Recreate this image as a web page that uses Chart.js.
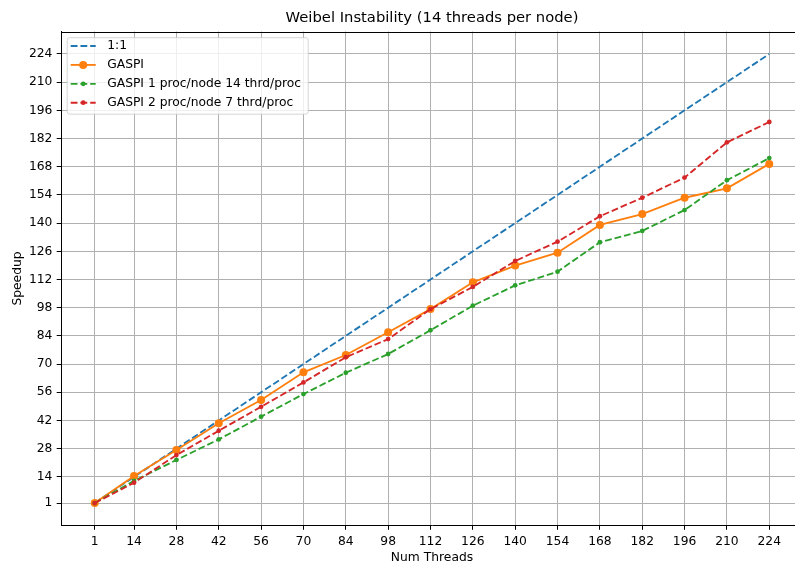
<!DOCTYPE html>
<html>
<head>
<meta charset="utf-8">
<title>Weibel Instability speedup</title>
<script src="https://cdn.jsdelivr.net/npm/chart.js@4/dist/chart.umd.min.js"></script>
<style>
  html, body { margin: 0; padding: 0; background: #fff; overflow: hidden; }
  #wrap { width: 795px; height: 561px; overflow: hidden; position: relative; }
  canvas { display: block; }
</style>
</head>
<body>
<div id="wrap"><canvas id="c" width="810" height="561" style="width:810px;height:561px"></canvas></div>
<script>
// Thread counts measured (x) and shared tick values for both axes
const threads   = [1, 14, 28, 42, 56, 70, 84, 98, 112, 126, 140, 154, 168, 182, 196, 210, 224];
const tickVals  = [1, 14, 28, 42, 56, 70, 84, 98, 112, 126, 140, 154, 168, 182, 196, 210, 224];

// Speedup series
const ideal     = [1, 14, 28, 42, 56, 70, 84, 98, 112, 126, 140, 154, 168, 182, 196, 210, 224];
const gaspi     = [1, 14.4, 27.3, 40.6, 52.2, 65.9, 74.5, 85.8, 97.3, 110.6, 118.9, 125.3, 139.1, 144.5, 152.6, 157.3, 169.4];
const gaspi1x14 = [1, 12.0, 22.4, 32.6, 43.9, 55.1, 65.7, 75.0, 86.8, 99.0, 109.1, 115.9, 130.5, 136.1, 146.5, 161.3, 172.3];
const gaspi2x7  = [1, 11.1, 24.8, 36.9, 48.8, 60.9, 73.4, 82.4, 97.3, 108.3, 121.2, 130.8, 143.4, 152.6, 162.6, 180.1, 190.2];

const seriesLabels = ['1:1', 'GASPI', 'GASPI 1 proc/node 14 thrd/proc', 'GASPI 2 proc/node 7 thrd/proc'];

const FONT = 'DejaVu Sans';
const fs = 12.3;
const DASH = [6.8, 2.95];
const LW = 1.85;

const pts = arr => threads.map((t, i) => ({ x: t, y: arr[i] }));

// top spine + framed legend inside the plot area
const decorations = {
  id: 'decorations',
  afterDraw(chart) {
    const ctx = chart.ctx;
    const ca = chart.chartArea;
    ctx.save();
    ctx.strokeStyle = '#000';
    ctx.lineWidth = 1;
    ctx.beginPath();
    ctx.moveTo(ca.left, Math.round(ca.top) + 0.5);
    ctx.lineTo(ca.right, Math.round(ca.top) + 0.5);
    ctx.stroke();

    // legend frame
    const bx = ca.left + 6.2, by = ca.top + 6.2, bw = 241, bh = 76.5, r = 2.5;
    ctx.beginPath();
    ctx.roundRect(bx, by, bw, bh, r);
    ctx.fillStyle = 'rgba(255,255,255,0.8)';
    ctx.fill();
    ctx.strokeStyle = 'rgba(204,204,204,0.8)';
    ctx.lineWidth = 1;
    ctx.stroke();

    ctx.font = fs + 'px "' + FONT + '"';
    ctx.textBaseline = 'middle';
    ctx.textAlign = 'left';
    const x0 = bx + 3.5, x1 = bx + 28.5, tx = bx + 40;
    chart.data.datasets.forEach((ds, i) => {
      const y = by + 8.3 + i * 18.9;
      ctx.strokeStyle = ds.borderColor;
      ctx.lineWidth = LW;
      ctx.setLineDash(ds.borderDash || []);
      ctx.beginPath();
      ctx.moveTo(x0, y);
      ctx.lineTo(x1, y);
      ctx.stroke();
      ctx.setLineDash([]);
      if (ds.pointRadius > 0) {
        ctx.fillStyle = ds.pointBackgroundColor;
        ctx.beginPath();
        ctx.arc((x0 + x1) / 2, y, ds.pointRadius, 0, Math.PI * 2);
        ctx.fill();
      }
      ctx.fillStyle = '#000';
      ctx.fillText(ds.label, tx, y);
    });
    ctx.restore();
  }
};

const axisCommon = (titleText) => ({
  type: 'linear',
  min: -10.15,
  max: 235.15,
  afterBuildTicks: s => { s.ticks = tickVals.map(v => ({ value: v })); },
  ticks: {
    autoSkip: false,
    maxRotation: 0,
    padding: 4.3,
    color: '#000',
    font: { family: FONT, size: fs },
    callback: v => String(v)
  },
  grid: {
    color: '#b0b0b0',
    lineWidth: 1,
    tickColor: '#000',
    tickLength: 4.3
  },
  border: { color: '#000', width: 1 },
  title: {
    display: true,
    text: titleText,
    color: '#000',
    font: { family: FONT, size: fs, lineHeight: 1.0 }
  }
});

const xScale = axisCommon('Num Threads');
xScale.title.padding = { top: 0, bottom: -2.5 };
xScale.afterFit = s => { s.height = 35.5; };

const yScale = axisCommon('Speedup');
yScale.title.padding = { top: 11.5, bottom: 0 };
yScale.afterFit = s => { s.width = 61; };

new Chart(document.getElementById('c'), {
  type: 'line',
  data: {
    datasets: [
      { label: seriesLabels[0], data: pts(ideal), borderColor: '#1f77b4', backgroundColor: '#1f77b4',
        borderWidth: LW, borderDash: DASH, pointRadius: 0, pointBackgroundColor: '#1f77b4', order: 4 },
      { label: seriesLabels[1], data: pts(gaspi), borderColor: '#ff7f0e', backgroundColor: '#ff7f0e',
        borderWidth: LW, pointRadius: 4, pointBorderWidth: 0, pointBackgroundColor: '#ff7f0e', order: 3 },
      { label: seriesLabels[2], data: pts(gaspi1x14), borderColor: '#2ca02c', backgroundColor: '#2ca02c',
        borderWidth: LW, borderDash: DASH, pointRadius: 2.4, pointBorderWidth: 0, pointBackgroundColor: '#2ca02c', order: 2 },
      { label: seriesLabels[3], data: pts(gaspi2x7), borderColor: '#d62728', backgroundColor: '#d62728',
        borderWidth: LW, borderDash: DASH, pointRadius: 2.4, pointBorderWidth: 0, pointBackgroundColor: '#d62728', order: 1 }
    ]
  },
  options: {
    responsive: false,
    animation: false,
    devicePixelRatio: 1,
    layout: { padding: { left: 0, right: 7, top: 0, bottom: 0 } },
    elements: { line: { tension: 0, fill: false } },
    scales: { x: xScale, y: yScale },
    plugins: {
      legend: { display: false },
      tooltip: { enabled: false },
      title: {
        display: true,
        fullSize: false,
        text: 'Weibel Instability (14 threads per node)',
        color: '#000',
        font: { family: FONT, size: 14.75, weight: 'normal', lineHeight: 1.2 },
        padding: { top: 9.4, bottom: 4.4 }
      }
    }
  },
  plugins: [decorations]
});
</script>
</body>
</html>
